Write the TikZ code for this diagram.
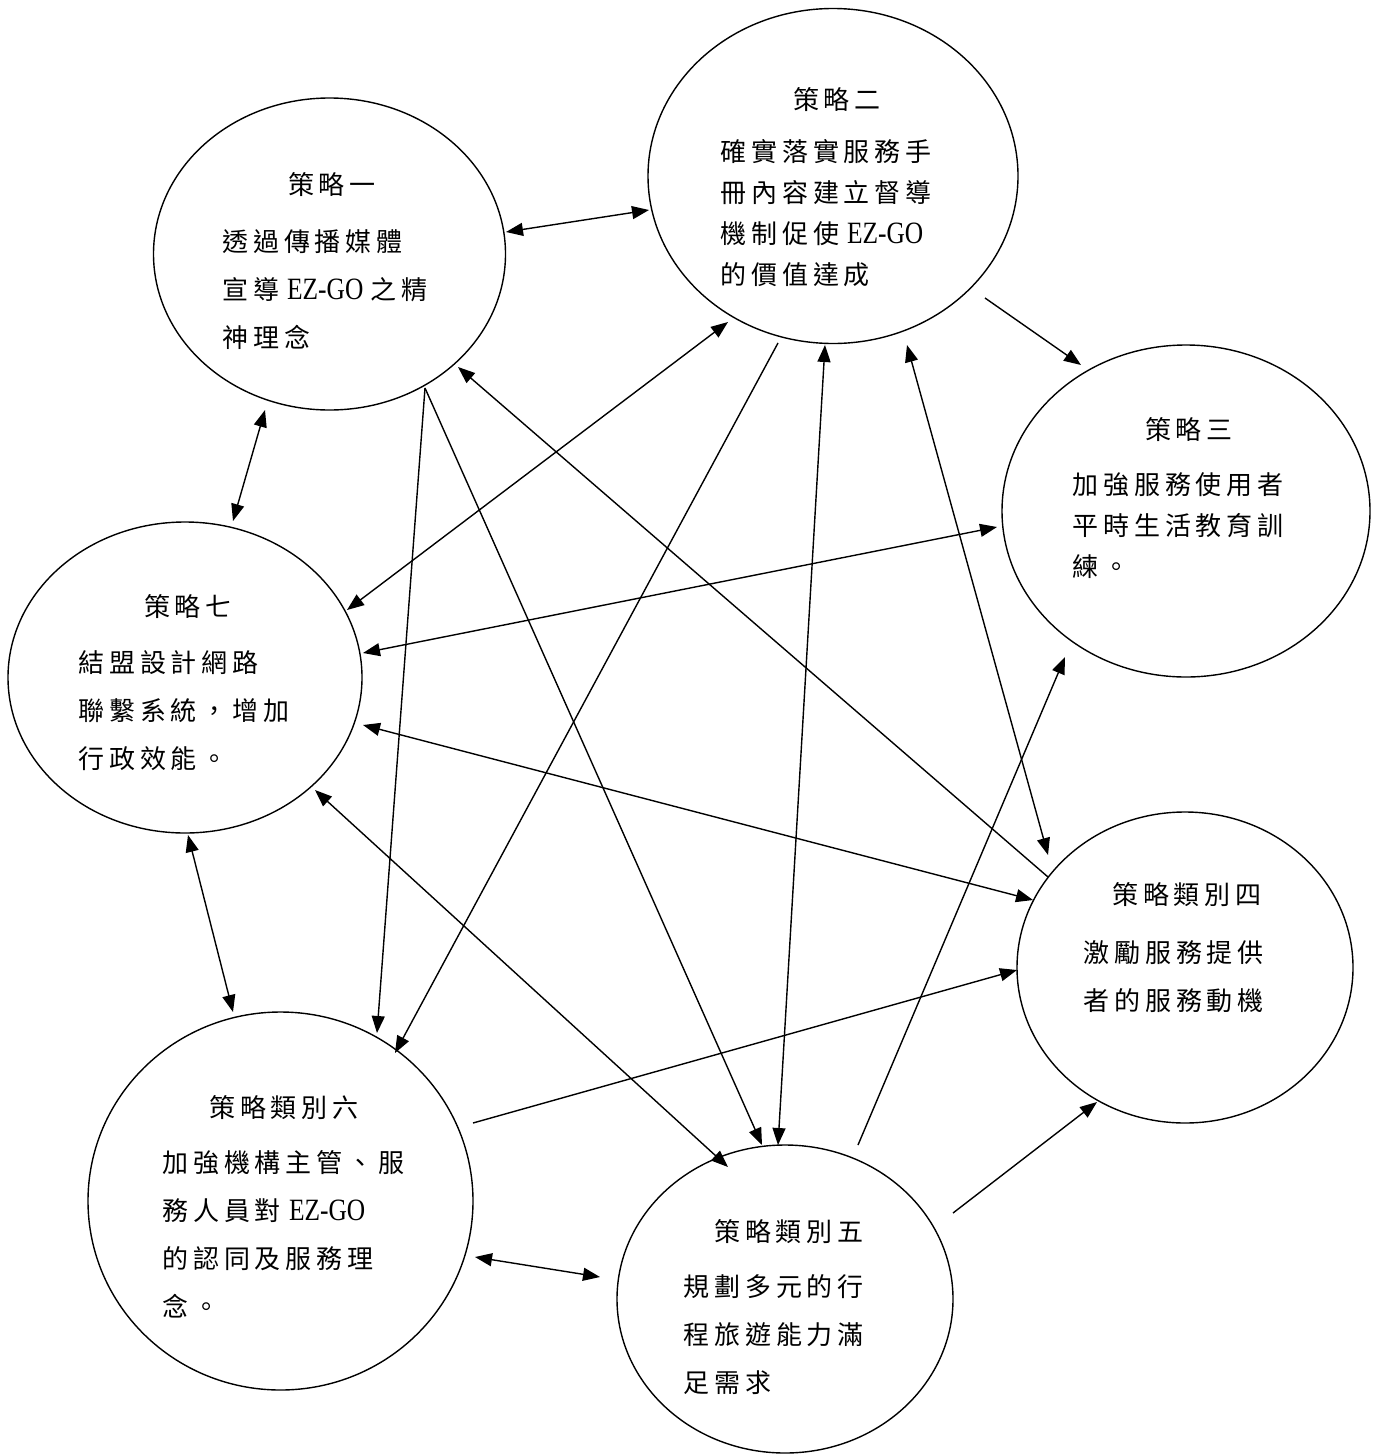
\documentclass[tikz,border=0pt]{standalone}
\usepackage{fontspec}
\usepackage{graphicx}
\setmainfont{Liberation Serif}
\newfontfamily\cjk[LetterSpace=19]{Noto Sans CJK TC}
\newfontfamily\lat{Liberation Serif}
\usetikzlibrary{shapes.geometric,arrows.meta}
% Latin product name set inside the Chinese lines
\newcommand\ezgo{\hspace{8pt}{\lat\fontsize{31}{31}\selectfont\scalebox{0.82}[1]{EZ-GO}}\hspace{7pt}}

\tikzset{
  bubble/.style={draw, ellipse, line width=1.4pt, inner sep=0pt},
  ttl/.style={inner sep=0pt, font=\cjk\fontsize{26}{26}\selectfont},
  body/.style={inner sep=0pt, anchor=north west, align=left, font=\cjk\fontsize{26}{48}\selectfont},
  tight/.style={font=\cjk\fontsize{26}{41}\selectfont},
  tip/.tip={Triangle[length=17pt,width=13pt]},
  link/.style={line width=1.4pt, -tip},
  both/.style={line width=1.4pt, tip-tip},
}

\begin{document}
\begin{tikzpicture}[x=1pt, y=-1pt]
\fill[white] (0,0) rectangle (1379,1456);
\useasboundingbox (0,0) rectangle (1379,1456);

% strategy bubbles
\node[bubble, minimum width=352pt, minimum height=312pt] (s1) at (329.5,254) {};
\node[bubble, minimum width=370pt, minimum height=335pt] (s2) at (833,176) {};
\node[bubble, minimum width=368pt, minimum height=332pt] (s3) at (1186,511) {};
\node[bubble, minimum width=354pt, minimum height=311pt] (s7) at (185,677.5) {};
\node[bubble, minimum width=336pt, minimum height=311pt] (s4) at (1185,967.5) {};
\node[bubble, minimum width=385pt, minimum height=378pt] (s6) at (280.5,1201) {};
\node[bubble, minimum width=336pt, minimum height=308pt] (s5) at (785,1299) {};

% titles and descriptions
\node[ttl] (s1t) at (332,185) {策略一};
\node[body] (s1b) at (222,229) {透過傳播媒體\\宣導\ezgo 之精\\神理念};
\node[ttl] (s2t) at (837,100) {策略二};
\node[body, tight] (s2b) at (720,139) {確實落實服務手\\冊內容建立督導\\機制促使\ezgo\\的價值達成};
\node[ttl] (s3t) at (1189,430) {策略三};
\node[body, tight] (s3b) at (1072,472) {加強服務使用者\\平時生活教育訓\\練。};
\node[ttl] (s7t) at (188,607) {策略七};
\node[body] (s7b) at (78,650) {結盟設計網路\\聯繫系統，增加\\行政效能。};
\node[ttl] (s4t) at (1187,895) {策略類別四};
\node[body] (s4b) at (1083,940) {激勵服務提供\\者的服務動機};
\node[ttl] (s6t) at (284,1108) {策略類別六};
\node[body] (s6b) at (162,1150) {加強機構主管、服\\務人員對\ezgo\\的認同及服務理\\念。};
\node[ttl] (s5t) at (789,1232) {策略類別五};
\node[body] (s5b) at (683,1274) {規劃多元的行\\程旅遊能力滿\\足需求};

% connector end points on the bubble outlines
\coordinate (a1) at (506,232);   \coordinate (b1) at (649,210);
\coordinate (a2) at (265,410);   \coordinate (b2) at (233,521);
\coordinate (a3) at (985,298);   \coordinate (b3) at (1081,365);
\coordinate (a4) at (728,322);   \coordinate (b4) at (347,610);
\coordinate (a5) at (997,527);   \coordinate (b5) at (363,653);
\coordinate (a6) at (1033,900);  \coordinate (b6) at (363,725);
\coordinate (a7) at (1048,877);  \coordinate (b7) at (458,367);
\coordinate (a8) at (907,345);   \coordinate (b8) at (1048,855);
\coordinate (a9) at (825,345);   \coordinate (b9) at (778,1145);
\coordinate (a10) at (778,343);  \coordinate (b10) at (395,1053);
\coordinate (a11) at (425,388);  \coordinate (b11) at (377,1033);
\coordinate (b12) at (762,1145);
\coordinate (a13) at (315,790);  \coordinate (b13) at (728,1167);
\coordinate (a14) at (188,835);  \coordinate (b14) at (233,1012);
\coordinate (a15) at (473,1123); \coordinate (b15) at (1017,970);
\coordinate (a16) at (475,1257); \coordinate (b16) at (600,1277);
\coordinate (a17) at (858,1145); \coordinate (b17) at (1065,657);
\coordinate (a18) at (953,1213); \coordinate (b18) at (1097,1102);

% links between strategies
\draw[both] (a1) -- (b1);
\draw[both] (a2) -- (b2);
\draw[link] (a3) -- (b3);
\draw[both] (a4) -- (b4);
\draw[both] (a5) -- (b5);
\draw[both] (a6) -- (b6);
\draw[link] (a7) -- (b7);
\draw[both] (a8) -- (b8);
\draw[both] (a9) -- (b9);
\draw[link] (a10) -- (b10);
\draw[link] (a11) -- (b11);
\draw[link] (a11) -- (b12);
\draw[both] (a13) -- (b13);
\draw[both] (a14) -- (b14);
\draw[link] (a15) -- (b15);
\draw[both] (a16) -- (b16);
\draw[link] (a17) -- (b17);
\draw[link] (a18) -- (b18);
\end{tikzpicture}
\end{document}
